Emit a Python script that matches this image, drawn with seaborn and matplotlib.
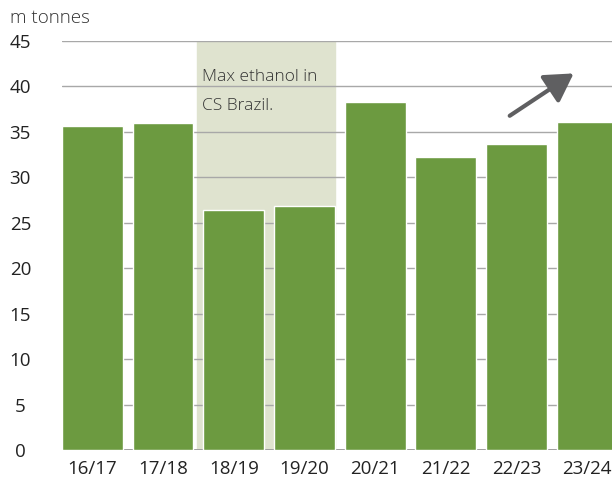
import matplotlib
matplotlib.use('Agg')
import matplotlib.pyplot as plt
import seaborn as sns
import pandas as pd

# data
seasons = ['16/17', '17/18', '18/19', '19/20', '20/21', '21/22', '22/23', '23/24']
production = [35.6, 36.0, 26.4, 26.8, 38.3, 32.2, 33.7, 36.1]
y_ticks = [0, 5, 10, 15, 20, 25, 30, 35, 40, 45]
note = 'Max ethanol in\nCS Brazil.'
unit_label = 'm tonnes'

df = pd.DataFrame({'season': seasons, 'production': production})

sns.set_style('white')
plt.rcParams['font.family'] = ['Open Sans', 'DejaVu Sans']

fig = plt.figure(figsize=(6.12, 4.86), dpi=100)
ax = fig.add_axes([0.1013, 0.0741, 0.908, 0.8416])

# shaded period
ax.axvspan(1.48, 3.43, color='#dfe3cf', zorder=0)

for y in y_ticks[1:]:
    ax.axhline(y, color='#a8a8a8', lw=1.0, zorder=1)
ax.axhline(0, color='#a0a0a0', lw=1.4, zorder=1)

sns.barplot(data=df, x='season', y='production', color='#6c9a40',
            saturation=1, width=0.86, ax=ax, zorder=2)

ax.set_xlim(-0.43, 7.43)
ax.set_ylim(0, 45)
ax.set_yticks(y_ticks)
ax.set_xlabel('')
ax.set_ylabel('')
ax.tick_params(axis='both', length=0, labelsize=13.5, colors='#222222')
ax.tick_params(axis='y', pad=30)
ax.tick_params(axis='x', pad=7)
for lab in ax.get_yticklabels():
    lab.set_horizontalalignment('center')
for s in ax.spines.values():
    s.set_visible(False)

ax.text(1.55, 41.95, note, fontsize=12.5, color='#333333', fontweight='light',
        va='top', ha='left', linespacing=2.1, zorder=3)

ax.annotate('', xy=(6.84, 41.6), xytext=(5.87, 36.6),
            arrowprops=dict(arrowstyle='-|>,head_length=1.7,head_width=1.0',
                            color='#5f5f61', lw=3), zorder=4)

fig.text(0.016, 0.963, unit_label, fontsize=13.5, color='#333333',
         fontweight='light', va='center', ha='left')

fig.savefig('out.png', dpi=100)
